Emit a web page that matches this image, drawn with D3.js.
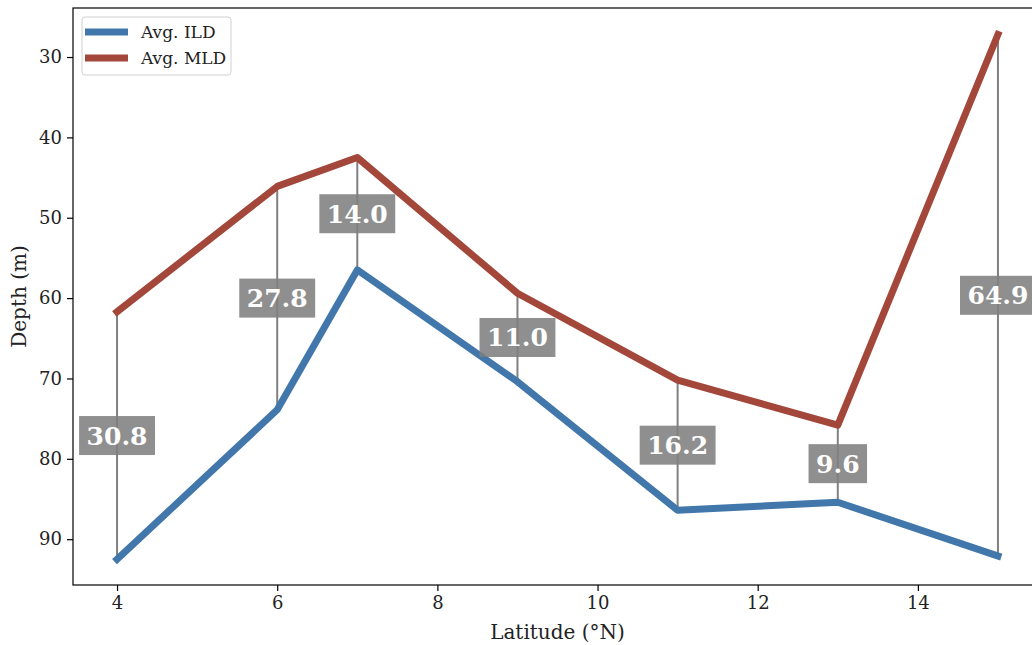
<!DOCTYPE html>
<html>
<head>
<meta charset="utf-8">
<script src="https://cdn.jsdelivr.net/npm/d3@7"></script>
<style>
  body { margin: 0; background: #fff; }
  svg { display: block; font-family: "DejaVu Serif", serif; }
</style>
</head>
<body>
<div id="chart"></div>
<script>
// data
const latitude = [4, 6, 7, 9, 11, 13, 15];
const avgILD = [92.5, 73.9, 56.5, 70.4, 86.4, 85.4, 92.1];
const avgMLD = [61.7, 46.1, 42.5, 59.4, 70.2, 75.8, 27.2];
const xTicks = [4, 6, 8, 10, 12, 14];
const yTicks = [30, 40, 50, 60, 70, 80, 90];
const seriesNames = ['Avg. ILD', 'Avg. MLD'];
const seriesColors = ['#4177aa', '#a3473a'];

const width = 1032, height = 645;
const margin = {top: 8, left: 73, bottom: 60, right: -10};
const cw = width - margin.left - margin.right,
      ch = height - margin.top - margin.bottom;

const svg = d3.select('#chart').append('svg')
  .attr('width', width).attr('height', height);

const x = d3.scaleLinear().domain([3.45, 15.55]).range([0, cw]);
const y = d3.scaleLinear().domain([23.9, 95.7]).range([0, ch]);

const g = svg.append('g').attr('transform', `translate(${margin.left},${margin.top})`);

const rows = latitude.map((lat, i) => ({lat, ild: avgILD[i], mld: avgMLD[i]}));

// vertical difference lines
g.selectAll('line.diff').data(rows).join('line').attr('class', 'diff')
  .attr('x1', d => x(d.lat)).attr('x2', d => x(d.lat))
  .attr('y1', d => y(d.mld)).attr('y2', d => y(d.ild))
  .attr('stroke', '#808080').attr('stroke-width', 2);

// series lines
const line = d3.line().x(d => x(d[0])).y(d => y(d[1]));
[avgILD, avgMLD].forEach((vals, si) => {
  g.append('path')
    .datum(latitude.map((lat, i) => [lat, vals[i]]))
    .attr('d', line)
    .attr('fill', 'none')
    .attr('stroke', seriesColors[si])
    .attr('stroke-width', 7)
    .attr('stroke-linejoin', 'round')
    .attr('stroke-linecap', 'square');
});

// difference labels
const lab = g.selectAll('g.lab').data(rows).join('g').attr('class', 'lab')
  .attr('transform', d => `translate(${x(d.lat)},${y((d.mld + d.ild) / 2)})`);
lab.each(function(d) {
  const el = d3.select(this);
  const rect = el.append('rect').attr('fill', '#808080').attr('fill-opacity', 0.88);
  const t = el.append('text')
    .attr('text-anchor', 'middle').attr('dy', '0.36em')
    .attr('font-size', 25).attr('font-weight', 'bold').attr('fill', '#fff')
    .text((d.ild - d.mld).toFixed(1));
  const w = t.node().getComputedTextLength() + 15;
  rect.attr('x', -w / 2).attr('y', -19.5).attr('width', w).attr('height', 39);
});

// axes
const xAxis = g.append('g').attr('transform', `translate(0,${ch})`)
  .call(d3.axisBottom(x).tickValues(xTicks).tickSize(6).tickPadding(5));
const yAxis = g.append('g')
  .call(d3.axisLeft(y).tickValues(yTicks).tickSize(6).tickPadding(5));
[xAxis, yAxis].forEach(a => {
  a.select('.domain').remove();
  a.selectAll('.tick line').attr('stroke', '#000').attr('stroke-width', 1.2);
  a.selectAll('.tick text').attr('font-size', 18).attr('fill', '#222')
    .attr('font-family', '"DejaVu Serif", serif');
});

// frame
g.append('rect').attr('x', 0).attr('y', 0).attr('width', cw).attr('height', ch)
  .attr('fill', 'none').attr('stroke', '#000').attr('stroke-width', 1.2);

// axis labels
svg.append('text')
  .attr('x', margin.left + cw / 2).attr('y', 639)
  .attr('text-anchor', 'middle').attr('font-size', 20).attr('fill', '#222')
  .text('Latitude (°N)');
svg.append('text')
  .attr('transform', `translate(26,${margin.top + ch / 2}) rotate(-90)`)
  .attr('text-anchor', 'middle').attr('font-size', 20).attr('fill', '#222')
  .text('Depth (m)');

// legend
const leg = svg.append('g').attr('transform', 'translate(82,17)');
leg.append('rect').attr('width', 149).attr('height', 58).attr('rx', 3)
  .attr('fill', '#fff').attr('fill-opacity', 0.8)
  .attr('stroke', '#d0d0d0').attr('stroke-width', 1);
seriesNames.forEach((name, i) => {
  const item = leg.append('g').attr('transform', `translate(3,${15 + i * 26})`);
  item.append('line').attr('x1', 0).attr('x2', 43)
    .attr('stroke', seriesColors[i]).attr('stroke-width', 7);
  item.append('text').attr('x', 56).attr('dy', '0.35em')
    .attr('font-size', 17).attr('fill', '#222').text(name);
});
</script>
</body>
</html>
